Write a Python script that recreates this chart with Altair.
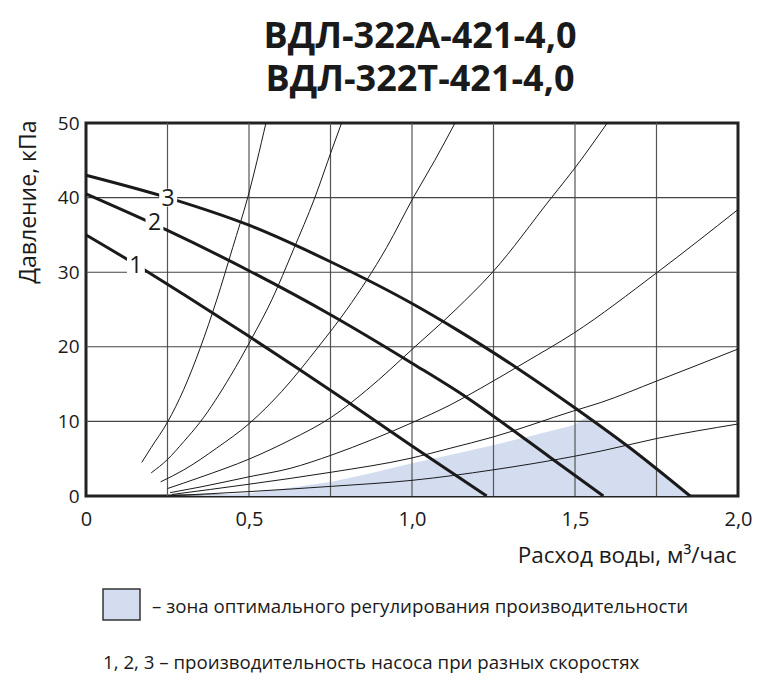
import altair as alt
import pandas as pd

# ---- data ----
pump1_x = [0, 0.15, 0.3, 0.5, 0.65, 0.8, 1.0, 1.229]
pump1_y = [35, 31.1, 27, 21.4, 17.1, 12.7, 6.7, 0]

pump2_x = [0, 0.25, 0.5, 0.75, 1.0, 1.168, 1.25, 1.423, 1.587]
pump2_y = [40.5, 35.6, 30.2, 24.3, 17.8, 13.2, 10.7, 5.2, 0]

pump3_x = [0, 0.25, 0.5, 0.75, 1.0, 1.137, 1.331, 1.51, 1.664, 1.853]
pump3_y = [43, 40, 36.3, 31.4, 25.8, 22.3, 16.9, 11.5, 6.6, 0]

sys1_x = [0.171, 0.2, 0.25, 0.3, 0.35, 0.401, 0.45, 0.496, 0.552]
sys1_y = [4.5, 6.5, 9.9, 14.3, 19.8, 26.3, 33.3, 40, 50]

sys2_x = [0.2, 0.25, 0.3, 0.35, 0.442, 0.508, 0.57, 0.636, 0.702, 0.754, 0.784]
sys2_y = [3.1, 4.9, 7.3, 9.9, 16, 21.1, 26.3, 33, 40, 46.4, 50]

sys3_x = [0.229, 0.3, 0.4, 0.503, 0.6, 0.713, 0.8, 0.922, 1.004, 1.07, 1.132]
sys3_y = [1.9, 3.5, 6.4, 9.8, 14, 20, 25, 33.3, 40, 45, 50]

sys4_x = [0.25, 0.35, 0.503, 0.626, 0.754, 0.861, 1.009, 1.132, 1.247, 1.428, 1.495, 1.599]
sys4_y = [1.0, 2.5, 5.0, 7.5, 10.6, 14.2, 20, 24.9, 30, 40, 43.7, 50]

sys5_x = [0.258, 0.35, 0.503, 0.626, 0.754, 0.88, 1.004, 1.117, 1.209, 1.35, 1.495, 1.75, 2.0]
sys5_y = [0.45, 1.2, 2.6, 3.7, 5.5, 7.6, 9.9, 12.2, 14.4, 18, 21.8, 29.9, 38.4]

sys6_x = [0.263, 0.503, 0.754, 1.0, 1.117, 1.248, 1.495, 1.577, 1.75, 2.0]
sys6_y = [0.2, 1.6, 3.2, 5.1, 6.4, 7.9, 11.4, 12.5, 15.4, 19.7]

sys7_x = [0.265, 0.503, 0.754, 1.0, 1.248, 1.495, 1.577, 1.75, 2.0]
sys7_y = [0.05, 0.6, 1.3, 2.1, 3.5, 5.3, 6.0, 7.7, 9.65]

zone_x = [0.26, 0.35, 0.503, 0.626, 0.754, 0.88, 1.0, 1.117, 1.248, 1.37, 1.495, 1.536, 1.664, 1.853]
zone_y = [0, 0.1, 0.4, 1.1, 1.9, 3.1, 4.4, 5.5, 6.8, 8.1, 9.5, 10.6, 6.6, 0]

label_text = ["1", "2", "3"]
label_x = [0.153, 0.21, 0.252]
label_y = [31, 36.7, 40]

x_ticks = [0, 0.5, 1.0, 1.5, 2.0]
y_ticks = [0, 10, 20, 30, 40, 50]
x_grid = [0.25, 0.5, 0.75, 1.0, 1.25, 1.5, 1.75]
y_grid = [10, 20, 30, 40]

title_line1 = "ВДЛ-322А-421-4,0"
title_line2 = "ВДЛ-322Т-421-4,0"
x_title = "Расход воды, м³/час"
y_title = "Давление, кПа"
legend_zone = "– зона оптимального регулирования производительности"
legend_curves = "1, 2, 3 – производительность насоса при разных скоростях"

FONT = "Open Sans"
INK = "#1a1a1a"
ZONE = "#d3ddef"

# ---- tables ----
def long(series):
    rows = []
    for name, xs, ys in series:
        for x, y in zip(xs, ys):
            rows.append({"curve": name, "x": x, "y": y})
    return pd.DataFrame(rows)

pumps = long([("1", pump1_x, pump1_y), ("2", pump2_x, pump2_y), ("3", pump3_x, pump3_y)])
systems = long([("s1", sys1_x, sys1_y), ("s2", sys2_x, sys2_y), ("s3", sys3_x, sys3_y),
                ("s4", sys4_x, sys4_y), ("s5", sys5_x, sys5_y), ("s6", sys6_x, sys6_y),
                ("s7", sys7_x, sys7_y)])
zone = pd.DataFrame({"x": zone_x, "y": zone_y})
labels = pd.DataFrame({"t": label_text, "x": label_x, "y": label_y})
xg = pd.DataFrame({"x": x_grid})
yg = pd.DataFrame({"y": y_grid})
one = pd.DataFrame({"a": [0]})

xscale = alt.Scale(domain=[0, 2], nice=False, zero=False)
yscale = alt.Scale(domain=[0, 50], nice=False)

x_axis = alt.Axis(
    values=x_ticks,
    labelExpr="datum.value == 0 ? '0' : replace(format(datum.value, '.1f'), '.', ',')",
    grid=False, ticks=False, domain=False,
    labelFont=FONT, labelFontSize=20, labelColor=INK, labelPadding=13,
    labelFlush=False, labelOverlap=False, labelBound=False,
    title=x_title, titleFont=FONT, titleFontSize=22.5, titleFontWeight="normal",
    titleColor=INK, titleX=650, titleY=66, titleAlign="right", titleBaseline="alphabetic",
)
y_axis = alt.Axis(
    values=y_ticks, format="d",
    grid=False, ticks=False, domain=False,
    labelFont=FONT, labelFontSize=19, labelColor=INK, labelPadding=7,
    labelFlush=False, labelOverlap=False,
    title=y_title, titleFont=FONT, titleFontSize=23, titleFontWeight="normal",
    titleColor=INK, titleAngle=-90, titleX=-58, titleY=-3,
    titleAlign="right", titleBaseline="middle",
)

X = alt.X("x:Q", scale=xscale)
Y = alt.Y("y:Q", scale=yscale)

area = alt.Chart(zone).mark_area(color=ZONE, interpolate="linear", opacity=1).encode(
    x=alt.X("x:Q", scale=xscale, axis=x_axis),
    y=alt.Y("y:Q", scale=yscale, axis=y_axis),
    y2=alt.datum(0),
)

vgrid = alt.Chart(xg).mark_rule(color="#555", strokeWidth=1.2).encode(x=X)
hgrid = alt.Chart(yg).mark_rule(color="#444", strokeWidth=1.1).encode(y=Y)

thin = alt.Chart(systems).mark_line(color=INK, strokeWidth=1, interpolate="monotone").encode(
    x=X, y=Y, detail="curve:N", order="x:Q",
)
thick = alt.Chart(pumps).mark_line(color=INK, strokeWidth=3, interpolate="monotone").encode(
    x=X, y=Y, detail="curve:N", order="x:Q",
)

label_bg = alt.Chart(labels).mark_square(size=320, color="white", opacity=1, filled=True).encode(
    x=X, y=Y,
)
label_txt = alt.Chart(labels).mark_text(
    font=FONT, fontSize=23, color=INK, align="center", baseline="middle", dy=1
).encode(x=X, y=Y, text="t:N")

leg_box = alt.Chart(one).mark_rect(fill=ZONE, stroke="#333", strokeWidth=1.5).encode(
    x=alt.value(17), x2=alt.value(54), y=alt.value(466), y2=alt.value(497)
)
leg_t1 = alt.Chart(one).mark_text(
    font=FONT, fontSize=18.7, color=INK, align="left", baseline="middle"
).encode(x=alt.value(66), y=alt.value(484), text=alt.value(legend_zone))
leg_t2 = alt.Chart(one).mark_text(
    font=FONT, fontSize=18.7, color=INK, align="left", baseline="middle"
).encode(x=alt.value(17), y=alt.value(540), text=alt.value(legend_curves))

chart = alt.layer(
    area, vgrid, hgrid, thin, thick, label_bg, label_txt, leg_box, leg_t1, leg_t2
).properties(
    width=652,
    height=373,
    background="white",
    autosize=alt.AutoSizeParams(type="none"),
    padding={"left": 78, "top": 115, "right": 32, "bottom": 178},
    title=alt.TitleParams(
        text=title_line1, subtitle=title_line2,
        font=FONT, fontSize=36, fontWeight="bold", color=INK,
        subtitleFont=FONT, subtitleFontSize=36, subtitleFontWeight="bold",
        subtitleColor=INK, subtitlePadding=7,
        anchor="middle", dx=8, offset=15,
    ),
).configure_view(
    stroke="#222", strokeWidth=3
)

chart.save("out.html", embed_options={"renderer": "svg", "actions": False})
